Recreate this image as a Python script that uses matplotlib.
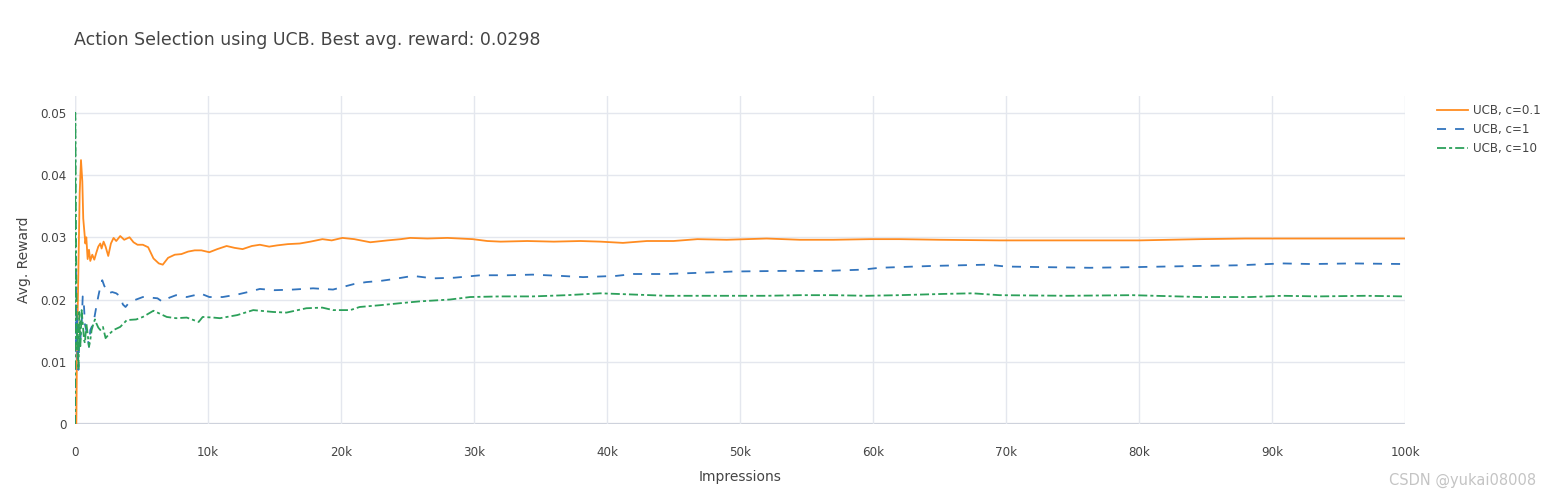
import numpy as np
import matplotlib
matplotlib.use("Agg")
import matplotlib.pyplot as plt
import matplotlib.ticker as mticker

# Values (impressions in thousands, avg. reward)
orange_k = [0, 0.1, 0.15, 0.25, 0.35, 0.45, 0.55, 0.62, 0.7, 0.78, 0.85, 0.95, 1.05, 1.15, 1.3, 1.45,
            1.6, 1.75, 1.9, 2.0, 2.15, 2.3, 2.5, 2.7, 2.9, 3.1, 3.4, 3.7, 4.1, 4.4, 4.7, 5.1, 5.5, 5.9,
            6.3, 6.6, 7.0, 7.5, 8.0, 8.5, 9.0, 9.5, 10.1, 10.7, 11.4, 12.0, 12.6, 13.3, 13.9, 14.6,
            15.2, 16.0, 16.9, 17.7, 18.6, 19.3, 20.1, 21.0, 22.2, 23.5, 24.5, 25.2, 26.5, 28.0, 29.9,
            31.0, 32.0, 34.0, 36.0, 38.0, 39.5, 41.2, 43.0, 45.0, 46.8, 49.0, 52.0, 54.5, 57.0, 59.8,
            62.0, 65.0, 69.5, 72.0, 76.3, 80.0, 84.6, 88.0, 92.0, 96.0, 100.0]
orange_y = [0.0, 0.0, 0.012, 0.024, 0.037, 0.0424, 0.039, 0.033, 0.031, 0.029, 0.030, 0.0265, 0.028,
            0.0262, 0.0272, 0.0264, 0.0275, 0.0285, 0.029, 0.0282, 0.0293, 0.0285, 0.0270, 0.0290,
            0.0299, 0.0294, 0.0302, 0.0296, 0.0300, 0.0292, 0.0288, 0.0288, 0.0284, 0.0266, 0.0258,
            0.0256, 0.0267, 0.0272, 0.0273, 0.0277, 0.0279, 0.0279, 0.0276, 0.0281, 0.0286, 0.0283,
            0.0281, 0.0286, 0.0288, 0.0285, 0.0287, 0.0289, 0.0290, 0.0293, 0.0297, 0.0295, 0.0299,
            0.0297, 0.0292, 0.0295, 0.0297, 0.0299, 0.0298, 0.0299, 0.0297, 0.0294, 0.0293, 0.0294,
            0.0293, 0.0294, 0.0293, 0.0291, 0.0294, 0.0294, 0.0297, 0.0296, 0.0298, 0.0296, 0.0296,
            0.0297, 0.0297, 0.0296, 0.0295, 0.0295, 0.0295, 0.0295, 0.0297, 0.0298, 0.0298, 0.0298,
            0.0298]

blue_k = [0, 0.04, 0.08, 0.12, 0.2, 0.26, 0.32, 0.4, 0.5, 0.58, 0.66, 0.75, 0.85, 0.95, 1.05, 1.15,
          1.3, 1.45, 1.6, 1.75, 1.9, 2.05, 2.2, 2.5, 2.8, 3.1, 3.4, 3.6, 3.8, 4.1, 4.6, 5.1, 5.7, 6.2,
          6.6, 7.1, 7.6, 8.4, 9.0, 9.4, 10.1, 11.1, 12.2, 13.0, 13.9, 15.0, 16.4, 17.9, 19.4, 20.1,
          21.0, 21.9, 23.0, 24.0, 25.4, 26.9, 28.5, 30.5, 32.5, 34.4, 36.5, 38.2, 40.7, 42.0, 44.5,
          47.0, 49.5, 53.2, 56.5, 59.2, 60.5, 64.5, 68.6, 70.0, 73.0, 76.3, 79.5, 82.0, 84.6, 87.5,
          90.8, 93.0, 96.0, 100.0]
blue_y = [0.0, 0.027, 0.013, 0.018, 0.0095, 0.0087, 0.014, 0.0135, 0.016, 0.0205, 0.0195, 0.016,
          0.015, 0.014, 0.0124, 0.0151, 0.0158, 0.0170, 0.0188, 0.0205, 0.022, 0.0231, 0.0222,
          0.0210, 0.0212, 0.0210, 0.0205, 0.0192, 0.0188, 0.0196, 0.0200, 0.0204, 0.0203, 0.0202,
          0.0196, 0.0203, 0.0207, 0.0204, 0.0207, 0.0210, 0.0204, 0.0204, 0.0208, 0.0212, 0.0217,
          0.0215, 0.0216, 0.0218, 0.0216, 0.0220, 0.0225, 0.0228, 0.0230, 0.0233, 0.0238, 0.0234,
          0.0235, 0.0239, 0.0239, 0.0240, 0.0238, 0.0236, 0.0238, 0.0241, 0.0241, 0.0243, 0.0245,
          0.0246, 0.0246, 0.0248, 0.0251, 0.0254, 0.0256, 0.0253, 0.0252, 0.0251, 0.0252, 0.0253,
          0.0254, 0.0255, 0.0258, 0.0257, 0.0258, 0.0257]

green_k = [0, 0.02, 0.05, 0.08, 0.12, 0.16, 0.2, 0.26, 0.32, 0.4, 0.5, 0.58, 0.68, 0.75, 0.85, 0.95,
           1.05, 1.15, 1.25, 1.4, 1.5, 1.6, 1.75, 1.9, 2.1, 2.3, 2.5, 2.9, 3.4, 3.9, 4.6, 5.1, 5.9,
           6.4, 6.9, 7.6, 8.4, 9.3, 9.6, 10.4, 10.9, 12.2, 13.4, 14.9, 15.9, 17.4, 18.6, 19.4, 20.7,
           21.4, 23.0, 24.4, 25.9, 28.2, 29.7, 32.0, 34.4, 37.0, 39.5, 42.0, 44.5, 48.3, 52.0, 54.5,
           57.0, 59.5, 62.0, 65.3, 67.5, 69.5, 74.6, 79.5, 84.6, 88.4, 90.8, 93.5, 97.0, 100.0]
green_y = [0.0, 0.050, 0.040, 0.028, 0.018, 0.012, 0.016, 0.0087, 0.018, 0.0125, 0.0183, 0.0162,
           0.0135, 0.0130, 0.0162, 0.0145, 0.0124, 0.0135, 0.0151, 0.0162, 0.0168, 0.0162, 0.0155,
           0.0151, 0.0156, 0.0138, 0.0143, 0.0151, 0.0156, 0.0167, 0.0168, 0.0172, 0.0182, 0.0177,
           0.0172, 0.0170, 0.0171, 0.0164, 0.0172, 0.0171, 0.0170, 0.0175, 0.0183, 0.0180, 0.0179,
           0.0186, 0.0187, 0.0183, 0.0183, 0.0188, 0.0191, 0.0194, 0.0197, 0.0200, 0.0204, 0.0205,
           0.0205, 0.0207, 0.0210, 0.0208, 0.0206, 0.0206, 0.0206, 0.0207, 0.0207, 0.0206, 0.0207,
           0.0209, 0.0210, 0.0207, 0.0206, 0.0207, 0.0204, 0.0204, 0.0206, 0.0205, 0.0206, 0.0205]

labels = ["UCB, c=0.1", "UCB, c=1", "UCB, c=10"]
title = "Action Selection using UCB. Best avg. reward: 0.0298"

plt.rcParams["font.family"] = ["DejaVu Sans"]
plt.rcParams["lines.scale_dashes"] = False
text_color = "#444444"
grid_color = "#e4e7ee"

fig = plt.figure(figsize=(15.51, 4.97), dpi=100)
ax = fig.add_axes([75 / 1551, 1 - 424 / 497, 1330 / 1551, 328 / 497])

ax.plot(np.array(orange_k) * 1000, orange_y, color="#ff8c21", lw=1.3, label=labels[0])
ax.plot(np.array(blue_k) * 1000, blue_y, color="#3274bd", lw=1.3, ls=(0, (6.5, 6.5)), label=labels[1])
ax.plot(np.array(green_k) * 1000, green_y, color="#2ca05a", lw=1.3,
        ls=(0, (6.5, 2.2, 2.2, 2.2)), label=labels[2])

ax.set_xlim(0, 100000)
ax.set_ylim(0, 0.0527)
ax.set_xticks(np.arange(0, 100001, 10000))
ax.set_yticks(np.arange(0, 0.051, 0.01))
ax.xaxis.set_major_formatter(mticker.FuncFormatter(lambda v, p: "0" if v == 0 else f"{int(v / 1000)}k"))
ax.yaxis.set_major_formatter(mticker.FuncFormatter(lambda v, p: "0" if abs(v) < 1e-9 else f"{v:.2f}"))
ax.tick_params(axis="both", length=0, labelsize=8.6, labelcolor=text_color)
ax.tick_params(axis="x", pad=16)
ax.tick_params(axis="y", pad=6)
ax.grid(True, color=grid_color, lw=1)
ax.set_axisbelow(True)
for s in ax.spines.values():
    s.set_visible(False)
ax.axhline(0, color="#c9cdd8", lw=1.6, zorder=0.5)
ax.axvline(0, color="#c9cdd8", lw=1.6, zorder=0.5)

ax.set_xlabel("Impressions", fontsize=10, color=text_color, labelpad=8)
ax.set_ylabel("Avg. Reward", fontsize=10, color=text_color, labelpad=7)
fig.text(74 / 1551, 1 - 40 / 497, title, fontsize=12.5, color=text_color, va="center", ha="left")

leg = ax.legend(loc="upper left", bbox_to_anchor=(1.018, 1.0), frameon=False, fontsize=8.6,
                handlelength=2.6, handletextpad=0.4, labelspacing=0.5, borderaxespad=0.3)
for t in leg.get_texts():
    t.set_color(text_color)

fig.text(1536 / 1551, 1 - 480 / 497, "CSDN @yukai08008", fontsize=10.5, color="#c4c4c4",
         ha="right", va="center")

fig.savefig("out.png", dpi=100)
